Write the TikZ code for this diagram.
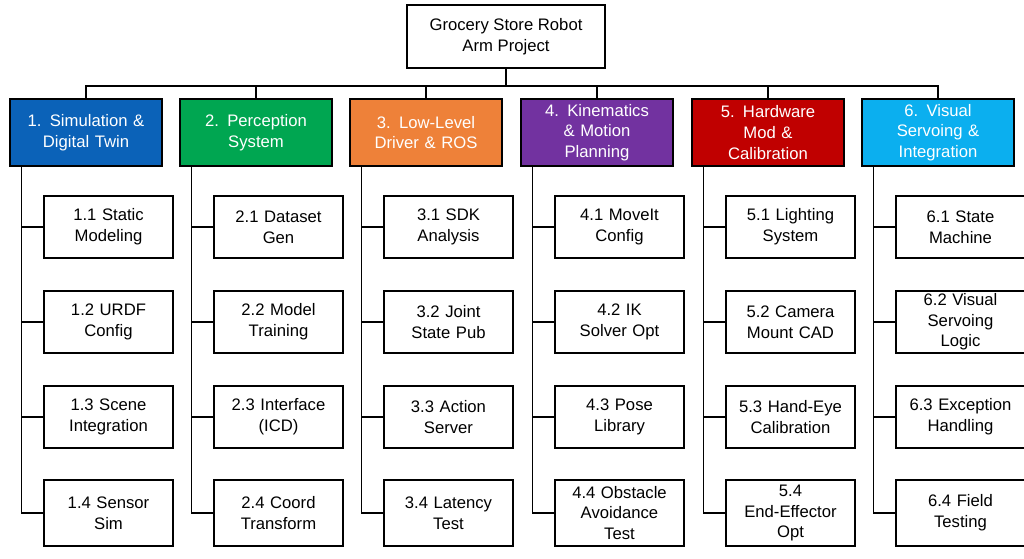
\documentclass[tikz,border=0pt]{standalone}
\usepackage{fontspec}
\setmainfont{Liberation Sans}
\tikzset{
  box/.style={draw=black, line width=1.1pt, align=center, inner sep=1pt, font=\fontsize{12.5}{15.5}\selectfont},
  rootbox/.style={box, fill=white, minimum width=148.5pt, minimum height=47.25pt},
  catbox/.style={box, text=white, minimum width=114pt, minimum height=50.25pt, text width=110pt},
  subbox/.style={box, fill=white, minimum width=96.75pt, minimum height=46.5pt, text width=94pt},
  link/.style={draw=black, line width=1.1pt}
}
\definecolor{cblue}{HTML}{0B62B8}
\definecolor{cgreen}{HTML}{00A651}
\definecolor{corange}{HTML}{EE8139}
\definecolor{cpurple}{HTML}{7232A0}
\definecolor{cred}{HTML}{C00000}
\definecolor{ccyan}{HTML}{0BAFEF}
\begin{document}
\begin{tikzpicture}[x=0.75pt,y=-0.75pt]
\useasboundingbox (0,0) rectangle (1024,559);

% root
\node[rootbox] (root) at (506,36.5) {Grocery Store Robot\\Arm Project};
\coordinate (bus) at (506,86);
\draw[link] (root.south) -- (bus);

% categories
\foreach \i/\cx/\col/\txt in {
  1/86/cblue/{1. Simulation \&\\Digital Twin},
  2/256/cgreen/{2. Perception\\System},
  3/426/corange/{3. Low-Level\\Driver \& ROS},
  4/597/cpurple/{4. Kinematics\\\& Motion\\Planning},
  5/768/cred/{5. Hardware\\Mod \&\\Calibration},
  6/938/ccyan/{6. Visual\\Servoing \&\\Integration}}{
  \node[catbox, fill=\col] (c\i) at (\cx,132.5) {\txt};
  \draw[link] (c\i.north) |- (bus);
  \coordinate (s\i) at ([xshift=9pt]c\i.south west);
}

% work packages
\foreach \i/\cx/\a/\b/\c/\d in {
  1/86/{1.1 Static\\Modeling}/{1.2 URDF\\Config}/{1.3 Scene\\Integration}/{1.4 Sensor\\Sim},
  2/256/{2.1 Dataset\\Gen}/{2.2 Model\\Training}/{2.3 Interface\\(ICD)}/{2.4 Coord\\Transform},
  3/426/{3.1 SDK\\Analysis}/{3.2 Joint\\State Pub}/{3.3 Action\\Server}/{3.4 Latency\\Test},
  4/597/{4.1 MoveIt\\Config}/{4.2 IK\\Solver Opt}/{4.3 Pose\\Library}/{4.4 Obstacle\\Avoidance\\Test},
  5/768/{5.1 Lighting\\System}/{5.2 Camera\\Mount CAD}/{5.3 Hand-Eye\\Calibration}/{5.4\\End-Effector\\Opt},
  6/938/{6.1 State\\Machine}/{6.2 Visual\\Servoing\\Logic}/{6.3 Exception\\Handling}/{6.4 Field\\Testing}}{
  \node[subbox] (k\i1) at (\cx+22.5,227) {\a};
  \node[subbox] (k\i2) at (\cx+22.5,322) {\b};
  \node[subbox] (k\i3) at (\cx+22.5,417) {\c};
  \node[subbox, minimum height=49.5pt] (k\i4) at (\cx+22.5,513) {\d};
  \foreach \j in {1,...,4}
    \draw[link] (s\i) |- (k\i\j.west);
}
\end{tikzpicture}
\end{document}
